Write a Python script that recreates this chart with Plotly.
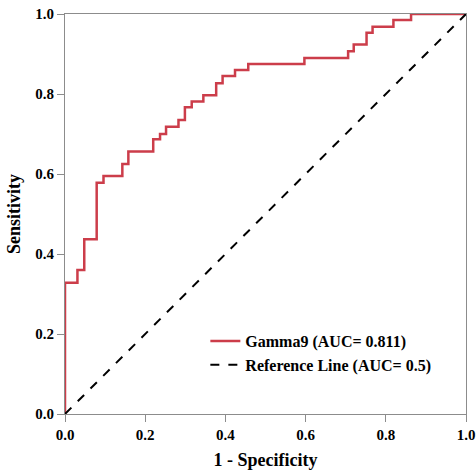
import plotly.graph_objects as go

# ROC step corner points (1 - specificity, sensitivity)
fpr = [0.0, 0.0, 0.031, 0.048, 0.079, 0.096, 0.143, 0.158, 0.220, 0.237, 0.252,
       0.283, 0.299, 0.316, 0.345, 0.377, 0.393, 0.424, 0.457, 0.597, 0.706,
       0.720, 0.752, 0.767, 0.819, 0.863, 1.0]
tpr = [0.0, 0.328, 0.360, 0.437, 0.578, 0.595, 0.625, 0.656, 0.687, 0.700, 0.718,
       0.735, 0.767, 0.781, 0.797, 0.827, 0.845, 0.860, 0.875, 0.890, 0.907,
       0.924, 0.953, 0.968, 0.985, 1.0, 1.0]
ref_x = [0.0, 1.0]
ref_y = [0.0, 1.0]
series_names = ["Gamma9 (AUC= 0.811)", "Reference Line (AUC= 0.5)"]
tick_vals = [0.0, 0.2, 0.4, 0.6, 0.8, 1.0]
tick_text = ["0.0", "0.2", "0.4", "0.6", "0.8", "1.0"]

FONT = "Liberation Serif"

fig = go.Figure()
fig.add_trace(go.Scatter(x=fpr, y=tpr, mode="lines", line_shape="hv",
                         line=dict(color="#cc3d4a", width=2.5),
                         name="<b>" + series_names[0] + "</b>"))
fig.add_trace(go.Scatter(x=ref_x, y=ref_y, mode="lines",
                         line=dict(color="black", width=2, dash="dash"),
                         name="<b>" + series_names[1] + "</b>"))

axis_common = dict(range=[0, 1], tickvals=tick_vals,
                   ticktext=["<b>" + t + "</b>" for t in tick_text],
                   showgrid=False, zeroline=False, showline=True, mirror=True,
                   linecolor="#8c8c8c", linewidth=1, ticks="outside", ticklen=7,
                   tickcolor="#8c8c8c", automargin=False,
                   tickfont=dict(family=FONT, size=15, color="black"))

fig.update_layout(
    width=476, height=470,
    margin=dict(l=65, r=10, t=14, b=56),
    paper_bgcolor="white", plot_bgcolor="white",
    font=dict(family=FONT, color="black"),
    xaxis=dict(**axis_common,
               title=dict(text="<b>1 - Specificity</b>", font=dict(family=FONT, size=18), standoff=12)),
    yaxis=dict(**axis_common,
               title=dict(text="<b>Sensitivity</b>", font=dict(family=FONT, size=18), standoff=9)),
    legend=dict(x=0.35, y=0.225, xanchor="left", yanchor="top",
                bgcolor="rgba(0,0,0,0)", font=dict(family=FONT, size=16, color="black"),
                itemwidth=30, tracegroupgap=0),
    showlegend=True,
)

fig.write_html("out.html", config={"displayModeBar": False},
               post_script="document.body.style.margin='0';document.body.style.overflow='hidden';")
